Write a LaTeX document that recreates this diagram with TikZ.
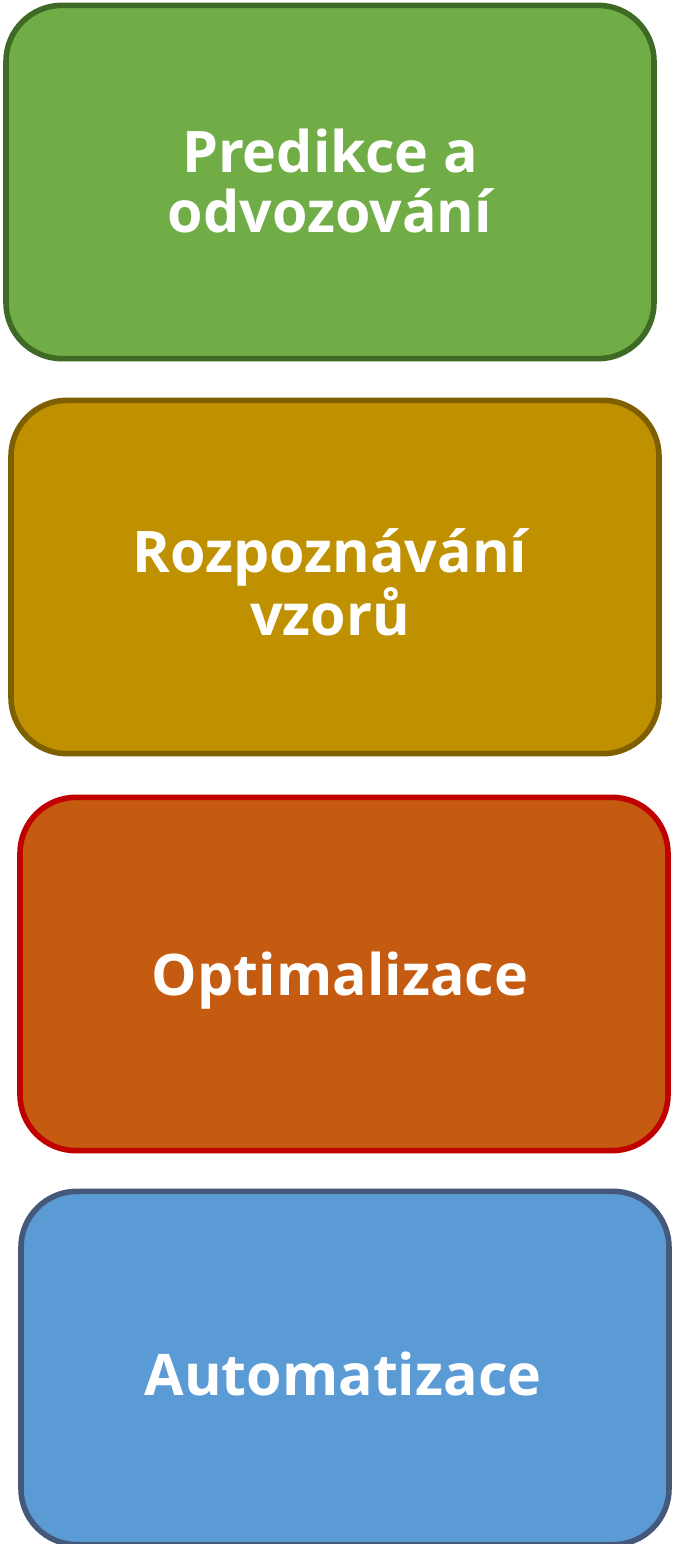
\documentclass[tikz,border=0pt]{standalone}
\usepackage{fontspec}
\setmainfont{Open Sans}
\definecolor{mygreen}{HTML}{70AD47}
\definecolor{mygreenline}{HTML}{3F6A26}
\definecolor{mygold}{HTML}{BF9000}
\definecolor{mygoldline}{HTML}{7F6000}
\definecolor{myorange}{HTML}{C55A11}
\definecolor{myorangeline}{HTML}{C00000}
\definecolor{myblue}{HTML}{5B9BD5}
\definecolor{myblueline}{HTML}{44587A}
\def\mylinewidth{4.2pt}

\begin{document}
\begin{tikzpicture}[x=0.75pt,y=-0.75pt]
\tikzset{layerbox/.style = {draw, line width=\mylinewidth, rounded corners=42pt,
  minimum width=486pt, minimum height=265pt, inner sep=0pt},
  layertext/.style = {text=white, font=\fontsize{43}{45}\selectfont\bfseries,
  align=center, inner sep=0pt}}
\useasboundingbox (0,0) rectangle (672,1544);
% boxes, top to bottom
\node [layerbox, fill=mygreen, draw=mygreenline] (predikce) at (330,182) {};
\node [layerbox, fill=mygold, draw=mygoldline] (vzory) at (335,577) {};
\node [layerbox, fill=myorange, draw=myorangeline] (optim) at (344,974) {};
\node [layerbox, fill=myblue, draw=myblueline] (autom) at (345,1368) {};
% labels
\node [layertext] (predikcetext) at (330,181) {Predikce a\\odvozování};
\node [layertext] (vzorytext) at (330,582) {Rozpoznávání\\vzorů};
\node [layertext, anchor=base] (optimtext) at (340,995) {Optimalizace};
\node [layertext, anchor=base] (automtext) at (343,1395) {Automatizace};
\end{tikzpicture}
\end{document}
